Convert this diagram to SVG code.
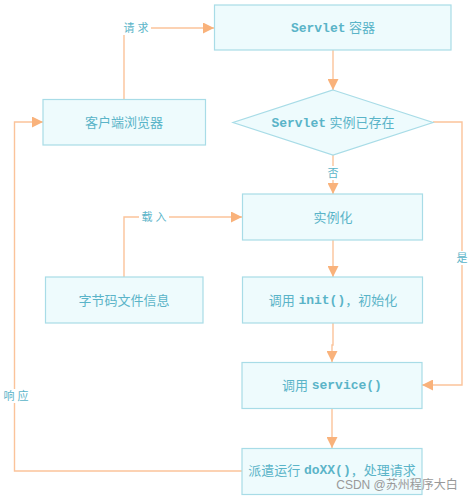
<svg xmlns="http://www.w3.org/2000/svg" width="469" height="498" viewBox="0 0 469 498">
<style>
.box{fill:#eefbfd;stroke:#a8dce7;stroke-width:1.2}
.t{font-family:"Liberation Sans","Noto Sans CJK SC",sans-serif;font-size:13px;fill:#5ab4c8;text-anchor:middle;dominant-baseline:central}
.m{font-family:"Liberation Mono","Noto Sans CJK SC",monospace;font-weight:bold}
.lbl{font-family:"Liberation Sans","Noto Sans CJK SC",sans-serif;font-size:11px;fill:#5ab4c8;text-anchor:middle;dominant-baseline:central}
.c{fill:none;stroke:#fbc39a;stroke-width:1.4}
</style>
<defs>
<marker id="ah" viewBox="0 0 10 10" refX="10" refY="5" markerWidth="11" markerHeight="11" markerUnits="userSpaceOnUse" orient="auto">
<path d="M0,0 L10,5 L0,10 Z" fill="#f9b27b"/>
</marker>
</defs>
<rect width="469" height="498" fill="#ffffff"/>
<g id="connectors">
<path class="c" d="M124,99 V28 H214" marker-end="url(#ah)"/>
<path class="c" d="M333,50 V90" marker-end="url(#ah)"/>
<path class="c" d="M333,155 V194" marker-end="url(#ah)"/>
<path class="c" d="M433,122 H462 V385 H422" marker-end="url(#ah)"/>
<path class="c" d="M124,277 V217 H242" marker-end="url(#ah)"/>
<path class="c" d="M333,240 V277" marker-end="url(#ah)"/>
<path class="c" d="M333,323 V345 H332 V362" marker-end="url(#ah)"/>
<path class="c" d="M332,408 V448" marker-end="url(#ah)"/>
<path class="c" d="M242,471 H14.5 V122 H43" marker-end="url(#ah)"/>
<rect x="121" y="21" width="30" height="14" fill="#fff"/>
<text class="lbl" x="136" y="28">请 求</text>
<rect x="139" y="210" width="30" height="14" fill="#fff"/>
<text class="lbl" x="154" y="217">载 入</text>
<rect x="326" y="166" width="14" height="14" fill="#fff"/>
<text class="lbl" x="333" y="173">否</text>
<rect x="455" y="251" width="14" height="14" fill="#fff"/>
<text class="lbl" x="462" y="258">是</text>
<rect x="2" y="389" width="26" height="14" fill="#fff"/>
<text class="lbl" x="16" y="396">响 应</text>
</g>
<g id="servlet-container">
<rect class="box" x="214.5" y="5" width="236.5" height="45"/>
<text class="t" x="333" y="27.5"><tspan class="m">Servlet</tspan> 容器</text>
</g>
<g id="client-browser">
<rect class="box" x="43" y="99.5" width="162.5" height="45.5"/>
<text class="t" x="124" y="122">客户端浏览器</text>
</g>
<g id="instance-exists">
<polygon class="box" points="333,90 433,122.5 333,155 233,122.5"/>
<text class="t" x="333" y="122.5"><tspan class="m">Servlet</tspan> 实例已存在</text>
</g>
<g id="instantiate">
<rect class="box" x="242.5" y="194" width="180" height="46"/>
<text class="t" x="333" y="217">实例化</text>
</g>
<g id="bytecode">
<rect class="box" x="45.5" y="277" width="157.5" height="46"/>
<text class="t" x="124" y="300">字节码文件信息</text>
</g>
<g id="init">
<rect class="box" x="242.5" y="277" width="180" height="46"/>
<text class="t" x="333" y="300">调用 <tspan class="m">init()</tspan>，初始化</text>
</g>
<g id="service">
<rect class="box" x="242" y="362.5" width="180" height="46"/>
<text class="t" x="332" y="385">调用 <tspan class="m">service()</tspan></text>
</g>
<g id="dispatch">
<rect class="box" x="242" y="448.5" width="180" height="46"/>
<text class="t" x="332" y="470">派遣运行 <tspan class="m">doXX()</tspan>，处理请求</text>
</g>
<text x="397" y="485" font-family="Liberation Sans,Noto Sans CJK SC,sans-serif" font-size="12" fill="#999999" text-anchor="middle" dominant-baseline="central">CSDN @苏州程序大白</text>
</svg>
